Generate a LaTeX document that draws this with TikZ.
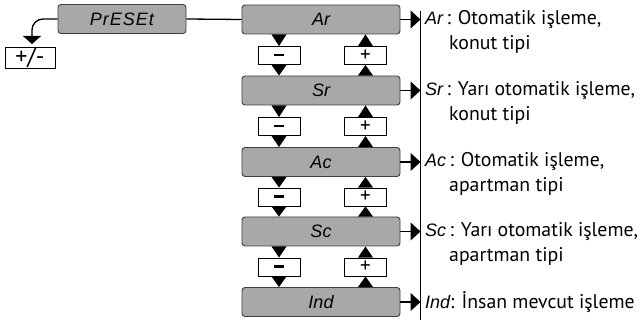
\documentclass[tikz,border=0pt]{standalone}
\usepackage{fontspec}
\setmainfont{PT Sans}
\newfontfamily\segfont{Liberation Sans}
\usetikzlibrary{arrows.meta}
\definecolor{boxgray}{HTML}{A8A8A8}
\definecolor{boxline}{HTML}{404040}
\newcommand{\sg}[1]{{\segfont\itshape\fontsize{18}{18}\selectfont #1}}
\begin{document}
\begin{tikzpicture}[x=1pt,y={(0pt,-1pt)},
  dispbox/.style={draw=boxline, line width=0.9pt, fill=boxgray, rounded corners=3pt,
    minimum height=29pt, inner sep=0pt, font=\segfont\itshape\fontsize{18}{18}\selectfont},
  btn/.style={draw=black, line width=0.9pt, fill=white, minimum width=42pt, minimum height=18pt,
    inner sep=0pt, font=\fontsize{21}{21}\selectfont},
  rarrow/.style={line width=1.3pt, -{Triangle[width=18pt,length=10pt]}},
  larrow/.style={line width=1.3pt, -{Triangle[width=18pt,length=8pt]}},
  lbl/.style={anchor=west, inner sep=0pt, font=\fontsize{19.8}{19.8}\selectfont}
]
\useasboundingbox (0,0) rectangle (641,320);
% preset
\node[dispbox, minimum width=128pt] (preset) at (122,19) {P\kern1pt r\kern1pt E\kern1pt S\kern1pt E\kern1pt t};
\node[btn, minimum width=50pt, font=\fontsize{24}{24}\selectfont] (pm) at (30,58) {+/-};
\coordinate (pmtip) at (32,44);
\draw[larrow, rounded corners=11pt] (preset.west) -| (pmtip);
% display boxes
\node[dispbox, minimum width=158pt] (b1) at (321,19.5) {Ar};
\node[dispbox, minimum width=158pt] (b2) at (321,90.5) {Sr};
\node[dispbox, minimum width=158pt] (b3) at (321,162) {Ac};
\node[dispbox, minimum width=158pt] (b4) at (321,231.5) {Sc};
\node[dispbox, minimum width=158pt] (b5) at (321,302) {Ind};
\draw[line width=1.3pt] (preset.east) -- (b1.west);
% buttons and triangles
\foreach \i/\j/\y in {1/2/55.5, 2/3/126.5, 3/4/197, 4/5/267} {
  \node[btn] (m\i) at (279,\y) {\raisebox{1pt}{\rule{10pt}{2.4pt}}};
  \node[btn] (p\i) at (365.5,\y) {+};
  \fill (271.5,0 |- b\i.south) -- (286.5,0 |- b\i.south) -- (279,0 |- m\i.north) -- cycle;
  \fill (271.5,0 |- m\i.south) -- (286.5,0 |- m\i.south) -- (279,0 |- b\j.north) -- cycle;
  \fill (358,0 |- p\i.north) -- (373,0 |- p\i.north) -- (365.5,0 |- b\i.south) -- cycle;
  \fill (358,0 |- b\j.north) -- (373,0 |- b\j.north) -- (365.5,0 |- p\i.south) -- cycle;
}
% vertical line and right arrows
\coordinate (vtop) at (420.5,11);
\coordinate (vbot) at (420.5,320);
\draw[line width=1.3pt] (vtop) -- (vbot);
\foreach \i in {1,...,5} {
  \draw[rarrow] (b\i.east) -- (b\i.east -| vtop);
}
% labels
\node[lbl] (t1a) at (425,20) {\sg{Ar}\,: Otomatik işleme,};
\node[lbl] (t1b) at (449,44) {konut tipi};
\node[lbl] (t2a) at (425,91) {\sg{Sr}\,: Yarı otomatik işleme,};
\node[lbl] (t2b) at (449,115) {konut tipi};
\node[lbl] (t3a) at (425,162) {\sg{Ac}\,: Otomatik işleme,};
\node[lbl] (t3b) at (449,186) {apartman tipi};
\node[lbl] (t4a) at (425,232) {\sg{Sc}\,: Yarı otomatik işleme,};
\node[lbl] (t4b) at (449,256) {apartman tipi};
\node[lbl] (t5a) at (425,302) {\sg{Ind}: İnsan mevcut işleme};
\end{tikzpicture}
\end{document}
